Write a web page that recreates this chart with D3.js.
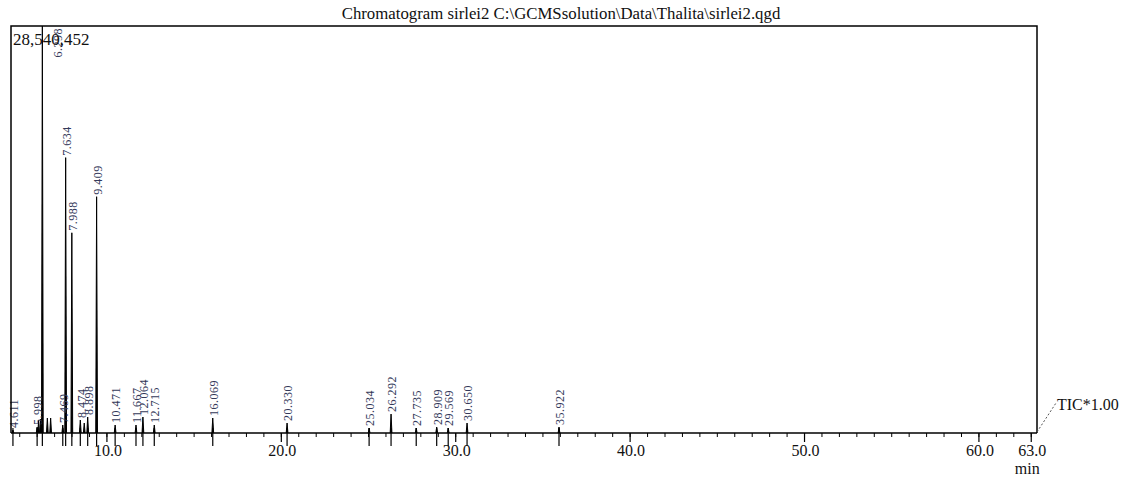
<!DOCTYPE html>
<html>
<head>
<meta charset="utf-8">
<script src="https://cdn.jsdelivr.net/npm/d3@7"></script>
<style>
	body { margin: 0; background: #fff; }
	svg text { font-family: "Liberation Serif", "Times New Roman", serif; }
</style>
</head>
<body>
<div id="chart"></div>
<script>
// retention time (min), intensity, label ("" = unlabeled)
const peakTimes = [4.611, 5.998, 6.085, 6.200, 6.298, 6.584, 6.773, 7.469, 7.634, 7.988, 8.474, 8.700, 8.898, 9.409,
	10.471, 11.667, 12.064, 12.715, 16.069, 20.330, 25.034, 26.292, 27.735, 28.909, 29.569, 30.650, 35.922];
const peakHeights = [210000, 420000, 910000, 980000, 28540452, 1050000, 1050000, 560000, 19310000, 14040000, 910000, 700000, 1120000, 16570000,
	560000, 560000, 1120000, 560000, 1050000, 700000, 350000, 1330000, 350000, 420000, 350000, 700000, 420000];
const peakLabels = ["4.611", "5.998", "", "", "6.298", "", "", "7.469", "7.634", "7.988", "8.474", "", "8.898", "9.409",
	"10.471", "11.667", "12.064", "12.715", "16.069", "20.330", "25.034", "26.292", "27.735", "28.909", "29.569", "30.650", "35.922"];
const majorTicks = [10, 20, 30, 40, 50, 60, 63];
const minorTicks = d3.range(5, 64);
const maxIntensity = 28540452;
const titleText = "Chromatogram sirlei2 C:\\GCMSsolution\\Data\\Thalita\\sirlei2.qgd";

const width = 1125, height = 477;
const plot = {left: 11, right: 1037, top: 26, bottom: 433};

const svg = d3.select("#chart")
	.append("svg")
		.attr("width", width)
		.attr("height", height);

svg.append("rect").attr("width", width).attr("height", height).attr("fill", "#fff");

const x = d3.scaleLinear().domain([4.5, 63.33]).range([plot.left, plot.right]);
const y = d3.scaleLinear().domain([0, maxIntensity]).range([plot.bottom, plot.top]);

const peaks = peakTimes.map((t, i) => ({t, h: peakHeights[i], label: peakLabels[i]}));

// title
svg.append("text")
	.attr("x", 561)
	.attr("y", 19)
	.attr("text-anchor", "middle")
	.style("font-size", "16.8px")
	.attr("fill", "#111")
	.text(titleText);

svg.append("defs").append("clipPath").attr("id", "clip")
	.append("rect")
		.attr("x", plot.left).attr("y", plot.top)
		.attr("width", plot.right - plot.left).attr("height", plot.bottom - plot.top);

// peaks
const halfWidth = 0.05;
const line = d3.line().x(d => x(d[0])).y(d => y(d[1]));
svg.append("g")
	.attr("clip-path", "url(#clip)")
	.selectAll("path")
	.data(peaks)
	.join("path")
		.attr("d", d => line([[d.t - halfWidth, 0], [d.t, d.h], [d.t + halfWidth, 0]]))
		.attr("fill", "#000")
		.attr("stroke", "#000")
		.attr("stroke-width", 1);

// peak markers below/above axis
const labeled = peaks.filter(d => d.label);
svg.append("g")
	.selectAll("line")
	.data(labeled)
	.join("line")
		.attr("x1", d => x(d.t)).attr("x2", d => x(d.t))
		.attr("y1", plot.bottom - 5).attr("y2", plot.bottom + 13)
		.attr("stroke", "#000")
		.attr("stroke-width", 1.2);

// peak labels
function clamped(d){
	return y(d.h) - 32 < plot.top;
}
svg.append("g")
	.selectAll("text")
	.data(labeled)
	.join("text")
		.attr("transform", d => {
			if(clamped(d)){
				return `translate(${x(d.t) + 15}, ${plot.top + 2}) rotate(-90)`;
			}
			return `translate(${x(d.t) + 1}, ${y(d.h) - 2}) rotate(-90)`;
		})
		.attr("text-anchor", d => clamped(d) ? "end" : "start")
		.attr("dy", "0.35em")
		.style("font-size", "12px")
		.style("letter-spacing", "0.5px")
		.attr("fill", "#34395a")
		.text(d => d.label);

// frame
svg.append("path")
	.attr("d", `M${plot.left},${plot.bottom}V${plot.top}H${plot.right}V${plot.bottom}`)
	.attr("fill", "none")
	.attr("stroke", "#000")
	.attr("stroke-width", 1.5);

// x axis
const axis = svg.append("g");
axis.append("line")
	.attr("x1", plot.left).attr("x2", plot.right)
	.attr("y1", plot.bottom).attr("y2", plot.bottom)
	.attr("stroke", "#000").attr("stroke-width", 1.5);
axis.selectAll(".minor")
	.data(minorTicks)
	.join("line")
		.attr("class", "minor")
		.attr("x1", d => x(d)).attr("x2", d => x(d))
		.attr("y1", plot.bottom).attr("y2", plot.bottom + 4)
		.attr("stroke", "#000");
axis.selectAll(".major")
	.data(majorTicks)
	.join("line")
		.attr("class", "major")
		.attr("x1", d => x(d)).attr("x2", d => x(d))
		.attr("y1", plot.bottom).attr("y2", plot.bottom + 9)
		.attr("stroke", "#000").attr("stroke-width", 1.2);
axis.selectAll(".ticklabel")
	.data(majorTicks)
	.join("text")
		.attr("class", "ticklabel")
		.attr("x", d => x(d) + 1)
		.attr("y", plot.bottom + 23)
		.attr("text-anchor", "middle")
		.style("font-size", "16px")
		.attr("fill", "#111")
		.text(d => d3.format(".1f")(d));
axis.append("text")
	.attr("x", x(63) - 4)
	.attr("y", 474)
	.attr("text-anchor", "middle")
	.style("font-size", "16px")
	.attr("fill", "#111")
	.text("min");

// max intensity label
svg.append("text")
	.attr("x", plot.left + 2)
	.attr("y", 45)
	.style("font-size", "17px")
	.attr("fill", "#111")
	.text(d3.format(",")(maxIntensity));

// TIC label with dotted leader
svg.append("line")
	.attr("x1", plot.right).attr("y1", plot.bottom - 1)
	.attr("x2", plot.right + 19).attr("y2", plot.bottom - 30)
	.attr("stroke", "#555")
	.attr("stroke-dasharray", "2,2");
svg.append("text")
	.attr("x", plot.right + 20)
	.attr("y", 410)
	.style("font-size", "16px")
	.attr("fill", "#111")
	.text("TIC*1.00");
</script>
</body>
</html>
